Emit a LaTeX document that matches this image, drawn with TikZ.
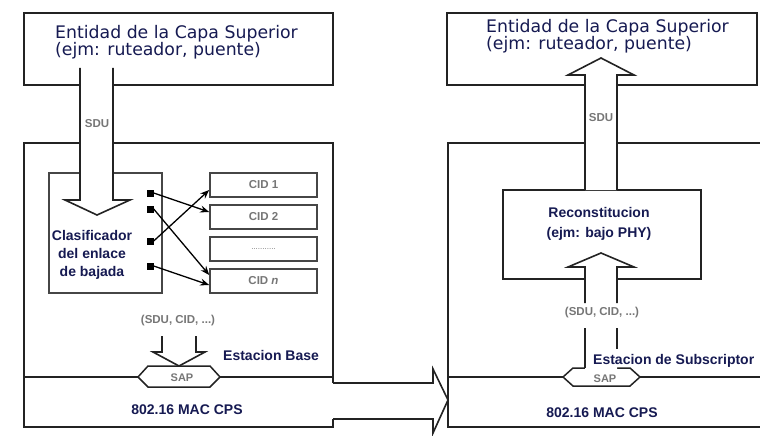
\documentclass[tikz,border=0pt]{standalone}
\usepackage{fontspec}
\setmainfont{Liberation Sans}
\newfontfamily\dvs{DejaVu Sans}
\usetikzlibrary{arrows.meta,calc}
\definecolor{ln}{RGB}{35,35,35}
\definecolor{ln2}{RGB}{70,70,70}
\definecolor{txt}{RGB}{22,26,82}
\definecolor{gr}{RGB}{118,118,118}
\begin{document}
\begin{tikzpicture}[x=1pt,y=-1pt,
  frame/.style={draw=ln,line width=1.8pt},
  thin frame/.style={draw=ln2,line width=1.6pt},
  blockarrow/.style={draw=ln,line width=1.6pt,fill=white,line join=miter},
  cidbox/.style={draw=ln2,line width=1.6pt,minimum width=107pt,minimum height=24pt,inner sep=0pt,font=\fontsize{11.5}{13}\selectfont\bfseries,text=gr},
  port/.style={fill=black,draw=none,minimum size=7pt,inner sep=0pt},
  conn/.style={draw=black,line width=1.3pt,-{Stealth[length=9pt,width=7pt]}},
  toptext/.style={anchor=base west,inner sep=0pt,align=left,font=\dvs\fontsize{17.3}{17}\selectfont,text=txt},
  boldtext/.style={inner sep=0pt,font=\fontsize{14}{18}\selectfont\bfseries,text=txt},
  graytext/.style={inner sep=0pt,font=\fontsize{11.5}{13}\selectfont\bfseries,text=gr},
  hexa/.style={draw=ln,line width=1.5pt,fill=white,line join=miter}
]
\useasboundingbox (0,0) rectangle (760,436);
\fill[white] (0,0) rectangle (760,436);

% ---------- left station ----------
\draw[frame] (24,13) rectangle (333,85);
\draw[frame] (333,383) -- (333,143) -- (24,143) -- (24,427) -- (333,427) -- (333,419);
\draw[frame] (24,377) -- (333,377);

% big horizontal arrow between stations
\draw[blockarrow] (333,383) -- (433,383) -- (433,369) -- (448,400) -- (433,433) -- (433,419) -- (333,419);

% ---------- right station ----------
\draw[frame] (447,13) rectangle (757,85);
\draw[frame] (761,143) -- (448,143) -- (448,427) -- (761,427);
\draw[frame] (448,377) -- (761,377);

% classifier and CIDs
\draw[thin frame] (49,173) rectangle (162,293);
\node[cidbox] (c1) at (263.5,185) {CID 1};
\node[cidbox] (c2) at (263.5,217) {CID 2};
\node[cidbox] (c3) at (263.5,249) {\fontsize{8}{9}\selectfont\mdseries ...........};
\node[cidbox] (cn) at (263.5,281) {CID \textit{n}};
\node[port] (s1) at (150,193) {};
\node[port] (s2) at (150,209) {};
\node[port] (s3) at (150,241) {};
\node[port] (s4) at (150,266) {};
\draw[conn] (s1.east) -- ([yshift=5pt]c2.west);
\draw[conn] (s2.east) -- ([yshift=6pt]cn.west);
\draw[conn] (s3.east) -- ([yshift=-5pt]c1.west);
\draw[conn] (s4.east) -- ([yshift=-4pt]cn.west);

% reconstitution box
\draw[frame] (503,190) rectangle (701,279);

% SDU down arrow (left)
\filldraw[blockarrow] (80,68) -- (80,200) -- (65,200) -- (97,215) -- (130,200) -- (113,200) -- (113,68);
% SDU up arrow (right)
\filldraw[blockarrow] (585,190) -- (585,75) -- (568,75) -- (601,58) -- (634,75) -- (617,75) -- (617,190);

% lower left arrow to SAP
\filldraw[blockarrow] (162,336) -- (162,352) -- (153,352) -- (179,366) -- (205,352) -- (196,352) -- (196,336);
% SAP hexagons
\draw[hexa] (138,377) -- (148,366) -- (210,366) -- (220,377) -- (210,387) -- (148,387) -- cycle;
\draw[hexa] (563,377) -- (573,368) -- (630,368) -- (640,377) -- (630,386) -- (573,386) -- cycle;

% lower right arrow from SAP
\fill[white] (585,372) -- (585,267) -- (568,267) -- (601,253) -- (634,267) -- (617,267) -- (617,372) -- cycle;
\draw[blockarrow,fill=none] (585,303) -- (585,267) -- (568,267) -- (601,253) -- (634,267) -- (617,267) -- (617,303);
\draw[draw=ln,line width=1.6pt] (585,328) -- (585,368);
\draw[draw=ln,line width=1.6pt] (617,328) -- (617,349);

% ---------- texts ----------
\node[toptext] (tl1) at (55,39) {Entidad de la Capa Superior};
\node[toptext] (tl2) at (55,56) {(ejm: ruteador, puente)};
\node[toptext] (tr1) at (486,32.5) {Entidad de la Capa Superior};
\node[toptext] (tr2) at (486,49.5) {(ejm: ruteador, puente)};

\node[graytext] (sdul) at (97,124) {SDU};
\node[graytext] (sdur) at (601,118) {SDU};
\node[graytext] (tupl) at (178,321) {(SDU, CID, ...)};
\node[graytext] (tupr) at (602,313) {(SDU, CID, ...)};
\node[graytext,font=\fontsize{11}{12}\selectfont\bfseries] (sapl) at (182,377.5) {SAP};
\node[graytext,font=\fontsize{11}{12}\selectfont\bfseries] (sapr) at (605,378.5) {SAP};

\node[boldtext,align=center,anchor=base] (cls) at (92,276.5) {Clasificador\\del enlace\\de bajada};
\node[boldtext,anchor=base west] (ebase) at (223,360) {Estacion Base};
\node[boldtext,anchor=base west] (esub) at (593,364) {Estacion de Subscriptor};
\node[boldtext,anchor=base] (macl) at (187,414) {802.16 MAC CPS};
\node[boldtext,anchor=base] (macr) at (602,417) {802.16 MAC CPS};
\node[boldtext,align=center,anchor=base,font=\fontsize{14}{20}\selectfont\bfseries] (rec) at (599,237) {Reconstitucion\\(ejm: bajo PHY)};
\end{tikzpicture}
\end{document}
